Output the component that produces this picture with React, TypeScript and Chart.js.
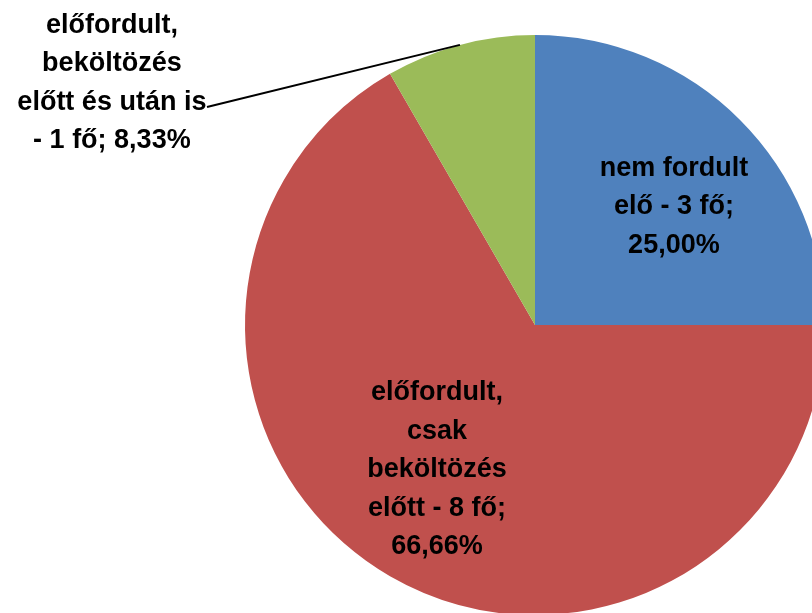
import React, { useEffect, useRef } from "react";
import { Chart, registerables } from "chart.js";

Chart.register(...registerables);

const categories = ["nem fordult elő", "előfordult, csak beköltözés előtt", "előfordult, beköltözés előtt és után is"];
const values = [3, 8, 1];
const colors = ["#4F81BD", "#C0504D", "#9BBB59"];
const labelLines = [
  ["nem fordult", "elő - 3 fő;", "25,00%"],
  ["előfordult,", "csak", "beköltözés", "előtt - 8 fő;", "66,66%"],
  ["előfordult,", "beköltözés", "előtt és után is", "- 1 fő; 8,33%"],
];

// label centre offsets, in units of the pie radius
const labelOffsets = [
  [0.479, -0.407],
  [-0.338, 0.5],
  [-1.459, -0.834],
];
const leaderStart = [-1.131, -0.752];

const labelPlugin = {
  id: "pieLabels",
  afterDatasetsDraw(chart: any) {
    const ctx = chart.ctx;
    const meta = chart.getDatasetMeta(0);
    ctx.save();
    ctx.font = "bold 27px 'Liberation Sans', Arial, sans-serif";
    ctx.fillStyle = "#000000";
    ctx.textAlign = "center";
    ctx.textBaseline = "middle";
    const lh = 38.5;
    meta.data.forEach((arc: any, i: number) => {
      const r = arc.outerRadius;
      const cx = arc.x + labelOffsets[i][0] * r;
      const cy = arc.y + labelOffsets[i][1] * r;
      const lines = labelLines[i];
      const y0 = cy - ((lines.length - 1) * lh) / 2;
      lines.forEach((t, j) => ctx.fillText(t, cx, y0 + j * lh));
      if (i === 2) {
        const mid = (arc.startAngle + arc.endAngle) / 2;
        ctx.beginPath();
        ctx.strokeStyle = "#000000";
        ctx.lineWidth = 2;
        ctx.moveTo(arc.x + leaderStart[0] * r, arc.y + leaderStart[1] * r);
        ctx.lineTo(arc.x + Math.cos(mid) * r, arc.y + Math.sin(mid) * r);
        ctx.stroke();
      }
    });
    ctx.restore();
  },
};

export default function App() {
  const ref = useRef<HTMLCanvasElement>(null);
  useEffect(() => {
    document.body.style.margin = "0";
    document.body.style.overflow = "hidden";
    const chart = new Chart(ref.current!, {
      type: "pie",
      data: {
        labels: categories,
        datasets: [
          {
            data: values,
            backgroundColor: colors,
            borderWidth: 0,
          },
        ],
      },
      options: {
        animation: false,
        responsive: false,
        devicePixelRatio: 1,
        layout: { padding: { left: 245, top: 35, right: 5, bottom: 5 } },
        plugins: {
          legend: { display: false },
          tooltip: { enabled: false },
        },
      },
      plugins: [labelPlugin],
    });
    return () => chart.destroy();
  }, []);
  return (
    <div style={{ position: "fixed", left: 0, top: 0, width: 812, height: 613, overflow: "hidden", background: "#fff" }}>
      <canvas ref={ref} width={830} height={620} style={{ width: 830, height: 620, display: "block" }} />
    </div>
  );
}
